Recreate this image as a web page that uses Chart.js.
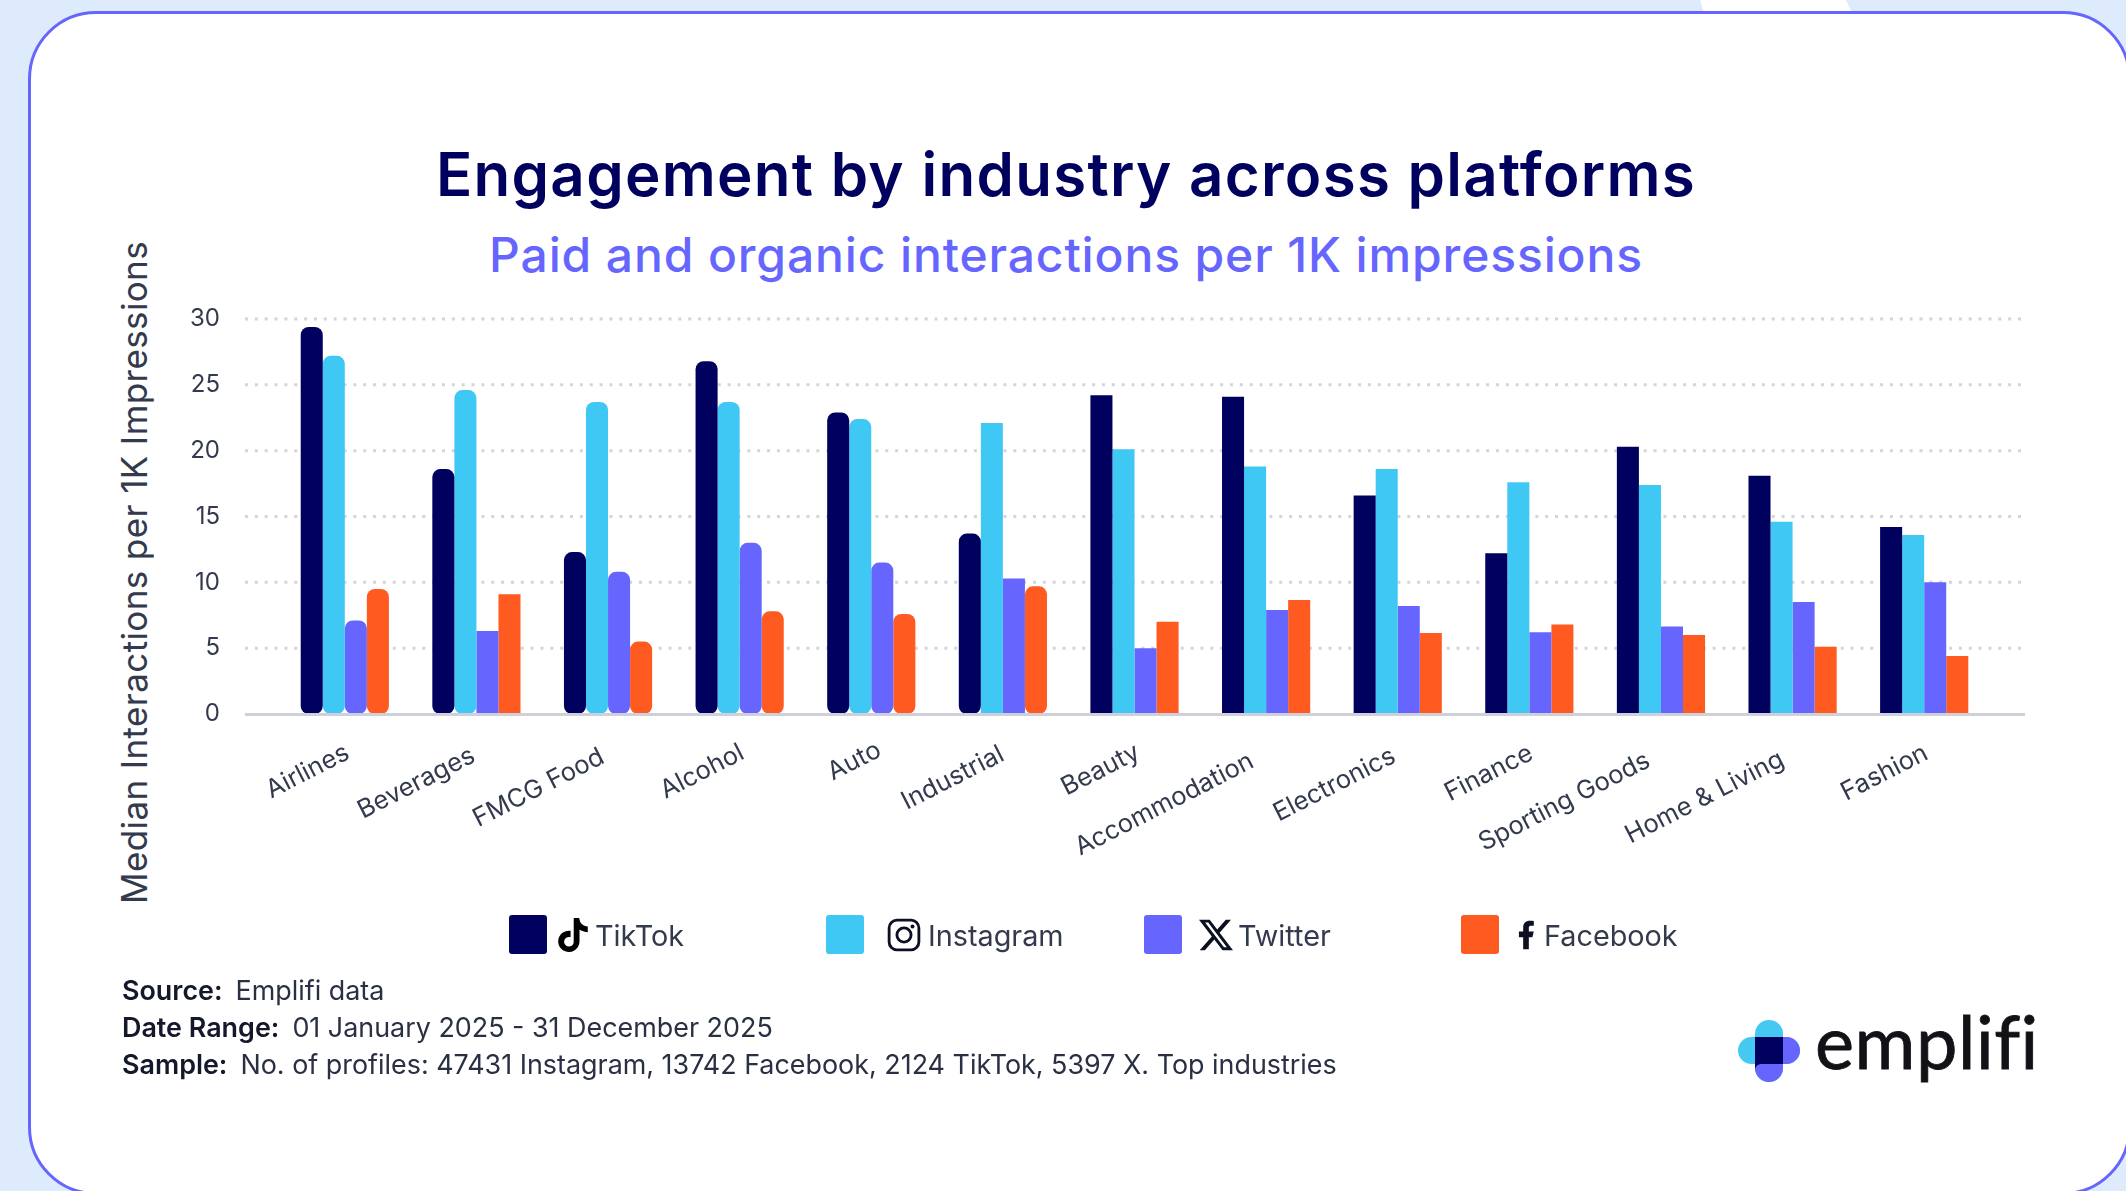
<!DOCTYPE html>
<html>
<head>
<meta charset="utf-8">
<title>Engagement by industry across platforms</title>
<script src="https://cdn.jsdelivr.net/npm/chart.js@4"></script>
<style>
  html, body { margin: 0; width: 2126px; height: 1191px; overflow: hidden; background: #deebfc; font-family: Inter, sans-serif; }
  .abs { position: absolute; white-space: nowrap; line-height: 1; }
  #notch { position: absolute; left: 1700px; top: 0; width: 152px; height: 13px; background: #fff; clip-path: polygon(0 0, 146px 0, 152px 13px, 4px 13px); }
  #card { position: absolute; left: 28px; top: 11px; width: 2103px; height: 1184px; box-sizing: border-box; background: #fff; border: 3px solid #6666ff; border-radius: 68px; }
  #chart { position: absolute; left: 0; top: 0; }
  #title { left: 0; width: 2132px; text-align: center; top: 144px; font-size: 60px; font-weight: 600; letter-spacing: 1.3px; color: #00005f; }
  #subtitle { left: 0; width: 2132px; text-align: center; top: 231px; font-size: 48px; font-weight: 500; letter-spacing: 0.87px; color: #6666ff; }
  #yTitle { left: 117px; top: 904px; font-size: 35px; letter-spacing: 0.37px; color: #333a4d; transform: rotate(-90deg); transform-origin: 0 0; }
  .swatch { position: absolute; top: 915px; width: 38px; height: 39px; border-radius: 3px; }
  .legendText { top: 922px; font-size: 28.8px; color: #333a4d; }
  .icon { position: absolute; top: 918px; width: 34px; height: 34px; }
  .note { left: 122px; font-size: 26.9px; color: #2a3044; }
  .note b { font-weight: 600; color: #14182b; margin-right: 13px; }
  #logoText { left: 1815px; top: 1004px; font-family: Lato, sans-serif; font-size: 74px; letter-spacing: 0.5px; font-variant-ligatures: none; color: #111116; -webkit-text-stroke: 0.8px #111116; }
</style>
</head>
<body>
<div id="notch"></div>
<div id="card"></div>
<div id="title" class="abs">Engagement by industry across platforms</div>
<div id="subtitle" class="abs">Paid and organic interactions per 1K impressions</div>
<div id="yTitle" class="abs">Median Interactions per 1K Impressions</div>
<canvas id="chart" width="2126" height="1191"></canvas>
<div id="legend"></div>
<div class="abs note" style="top:977px"><b>Source:</b>Emplifi data</div>
<div class="abs note" style="top:1014px"><b>Date Range:</b>01 January 2025 - 31 December 2025</div>
<div class="abs note" style="top:1051px"><b>Sample:</b>No. of profiles: 47431 Instagram, 13742 Facebook, 2124 TikTok, 5397 X. Top industries</div>

<svg class="logo" style="position:absolute;left:1738px;top:1020px" width="62" height="62" viewBox="0 0 62 62">
  <rect x="0" y="17" width="62" height="27" rx="13.5" fill="#45c8f2"/>
  <rect x="17" y="0" width="28" height="62" rx="14" fill="#45c8f2"/>
  <path d="M45 17h3.5a13.5 13.5 0 0 1 0 27H45zM17 44h28v4a14 14 0 0 1-28 0z" fill="#6666ff"/>
  <path d="M17 17h28v27H23a6 6 0 0 0-6 6z" fill="#00005f"/>
</svg>
<div id="logoText" class="abs">emplifi</div>

<script>
const industries = ["Airlines", "Beverages", "FMCG Food", "Alcohol", "Auto", "Industrial", "Beauty", "Accommodation", "Electronics", "Finance", "Sporting Goods", "Home & Living", "Fashion"];
const tiktok = [29.4, 18.6, 12.3, 26.8, 22.9, 13.7, 24.2, 24.1, 16.6, 12.2, 20.3, 18.1, 14.2];
const instagram = [27.2, 24.6, 23.7, 23.7, 22.4, 22.1, 20.1, 18.8, 18.6, 17.6, 17.4, 14.6, 13.6];
const twitter = [7.1, 6.3, 10.8, 13.0, 11.5, 10.3, 5.0, 7.9, 8.2, 6.2, 6.65, 8.5, 10.0];
const facebook = [9.5, 9.1, 5.5, 7.8, 7.6, 9.7, 7.0, 8.65, 6.15, 6.8, 6.0, 5.1, 4.4];
const yTicks = [0, 5, 10, 15, 20, 25, 30];
const platforms = ["TikTok", "Instagram", "Twitter", "Facebook"];
const platformColors = ["#00005f", "#40c8f4", "#6666ff", "#ff5a1f"];

// bars that keep square corners, everything after Industrial is square too
const squareBars = ["1:2", "1:3", "5:1", "5:2"];
const barRadius = (ctx) => {
  if (ctx.dataIndex > 5 || squareBars.includes(ctx.dataIndex + ":" + ctx.datasetIndex)) return 0;
  return 8;
};

const legendLayout = [
  { swatch: 509, icon: 556, text: 595 },
  { swatch: 826, icon: 887, text: 928 },
  { swatch: 1144, icon: 1199, text: 1238 },
  { swatch: 1461, icon: 1509, text: 1544 },
];
const legendIcons = [
  '<path fill="#000" d="M12.525.02c1.31-.02 2.61-.01 3.91-.02.08 1.53.63 3.09 1.75 4.17 1.12 1.11 2.7 1.62 4.24 1.79v4.03c-1.44-.05-2.89-.35-4.2-.97-.57-.26-1.1-.59-1.62-.93-.01 2.92.01 5.84-.02 8.75-.08 1.4-.54 2.79-1.35 3.94-1.31 1.92-3.58 3.17-5.91 3.21-1.43.08-2.86-.31-4.08-1.03-2.02-1.19-3.44-3.37-3.65-5.71-.02-.5-.03-1-.01-1.49.18-1.9 1.12-3.72 2.58-4.96 1.66-1.44 3.98-2.13 6.15-1.72.02 1.48-.04 2.96-.04 4.44-.99-.32-2.15-.23-3.02.37-.63.41-1.11 1.04-1.36 1.75-.21.51-.15 1.07-.14 1.61.24 1.64 1.82 3.02 3.5 2.87 1.12-.01 2.19-.66 2.77-1.61.19-.33.4-.67.41-1.06.1-1.79.06-3.57.07-5.36.01-4.03-.01-8.05.02-12.07z"/>',
  '<rect x="1.5" y="1.5" width="21" height="21" rx="5.5" fill="none" stroke="#0d1020" stroke-width="2"/><circle cx="12" cy="12" r="5" fill="none" stroke="#0d1020" stroke-width="2"/><circle cx="18" cy="6" r="1.4" fill="#0d1020"/>',
  '<path fill="#0d1020" d="M18.901 1.153h3.68l-8.04 9.19L24 22.846h-7.406l-5.8-7.584-6.638 7.584H.474l8.6-9.83L0 1.154h7.594l5.243 6.932ZM17.61 20.644h2.039L6.486 3.24H4.298Z"/>',
  '<path fill="#0d1020" d="M14 13.5h2.5l1-4H14v-2c0-1.03 0-2 2-2h1.5V2.14c-.326-.043-1.557-.14-2.857-.14C11.928 2 10 3.657 10 6.7v2.8H7v4h3V22h4z"/>',
];

// legend row sits outside the canvas so the brand icons can go next to the names
const legendEl = document.getElementById("legend");
platforms.forEach((name, i) => {
  const pos = legendLayout[i];
  legendEl.insertAdjacentHTML("beforeend",
    `<div class="swatch" style="left:${pos.swatch}px;background:${platformColors[i]}"></div>` +
    `<svg class="icon" style="left:${pos.icon}px" viewBox="0 0 24 24">${legendIcons[i]}</svg>` +
    `<div class="abs legendText" style="left:${pos.text}px">${name}</div>`);
});

// dotted grid runs wider than the category band, so it is drawn here instead of by the scale
const wideGrid = {
  id: "wideGrid",
  beforeDatasetsDraw(chart) {
    const { ctx, chartArea, scales } = chart;
    ctx.save();
    ctx.strokeStyle = "#d4d4db";
    ctx.lineWidth = 3;
    ctx.setLineDash([3, 6.85]);
    yTicks.filter((t) => t > 0).forEach((t) => {
      const y = scales.y.getPixelForValue(t);
      ctx.beginPath();
      ctx.moveTo(chartArea.left - 34, y);
      ctx.lineTo(chartArea.right + 32, y);
      ctx.stroke();
    });
    ctx.restore();
  },
  afterDatasetsDraw(chart) {
    const { ctx, chartArea, scales } = chart;
    const y = scales.y.getPixelForValue(0) + 0.5;
    ctx.save();
    ctx.strokeStyle = "#d0d0da";
    ctx.lineWidth = 3;
    ctx.beginPath();
    ctx.moveTo(chartArea.left - 34, y);
    ctx.lineTo(chartArea.right + 35, y);
    ctx.stroke();
    ctx.restore();
  },
};

// rotated category labels: longer names slide further down their slope than chart.js would place them
const slantedLabels = {
  id: "slantedLabels",
  afterDraw(chart) {
    const { ctx, scales } = chart;
    ctx.save();
    ctx.font = "25.5px Inter";
    ctx.fillStyle = "#333a4d";
    ctx.textAlign = "right";
    ctx.textBaseline = "middle";
    industries.forEach((label, i) => {
      const shift = (88 - ctx.measureText(label).width) * 0.176;
      ctx.save();
      ctx.translate(scales.x.getPixelForTick(i) + 3, scales.y.bottom + 37);
      ctx.rotate(-27 * Math.PI / 180);
      ctx.fillText(label, shift, 0);
      ctx.restore();
    });
    ctx.restore();
  },
};

const seriesValues = [tiktok, instagram, twitter, facebook];

new Chart(document.getElementById("chart"), {
  type: "bar",
  data: {
    labels: industries,
    datasets: platforms.map((name, i) => ({
      label: name,
      data: seriesValues[i],
      backgroundColor: platformColors[i],
      borderRadius: barRadius,
      borderSkipped: false,
      barPercentage: 1,
      categoryPercentage: 0.67,
    })),
  },
  options: {
    responsive: false,
    animation: false,
    layout: { padding: { top: 319, right: 136, left: 0, bottom: 0 } },
    plugins: { legend: { display: false }, title: { display: false }, tooltip: { enabled: false } },
    scales: {
      x: {
        grid: { display: false },
        border: { display: false },
        ticks: { display: false },
        afterFit: (scale) => { scale.height = 477; },
      },
      y: {
        min: 0,
        max: 30,
        afterBuildTicks: (scale) => { scale.ticks = yTicks.map((value) => ({ value })); },
        grid: { display: false, drawTicks: false },
        border: { display: false },
        ticks: {
          padding: 59,
          color: "#333a4d",
          font: { family: "Inter", size: 24 },
        },
        afterFit: (scale) => { scale.width = 279; },
      },
    },
  },
  plugins: [wideGrid, slantedLabels],
});
</script>
</body>
</html>
